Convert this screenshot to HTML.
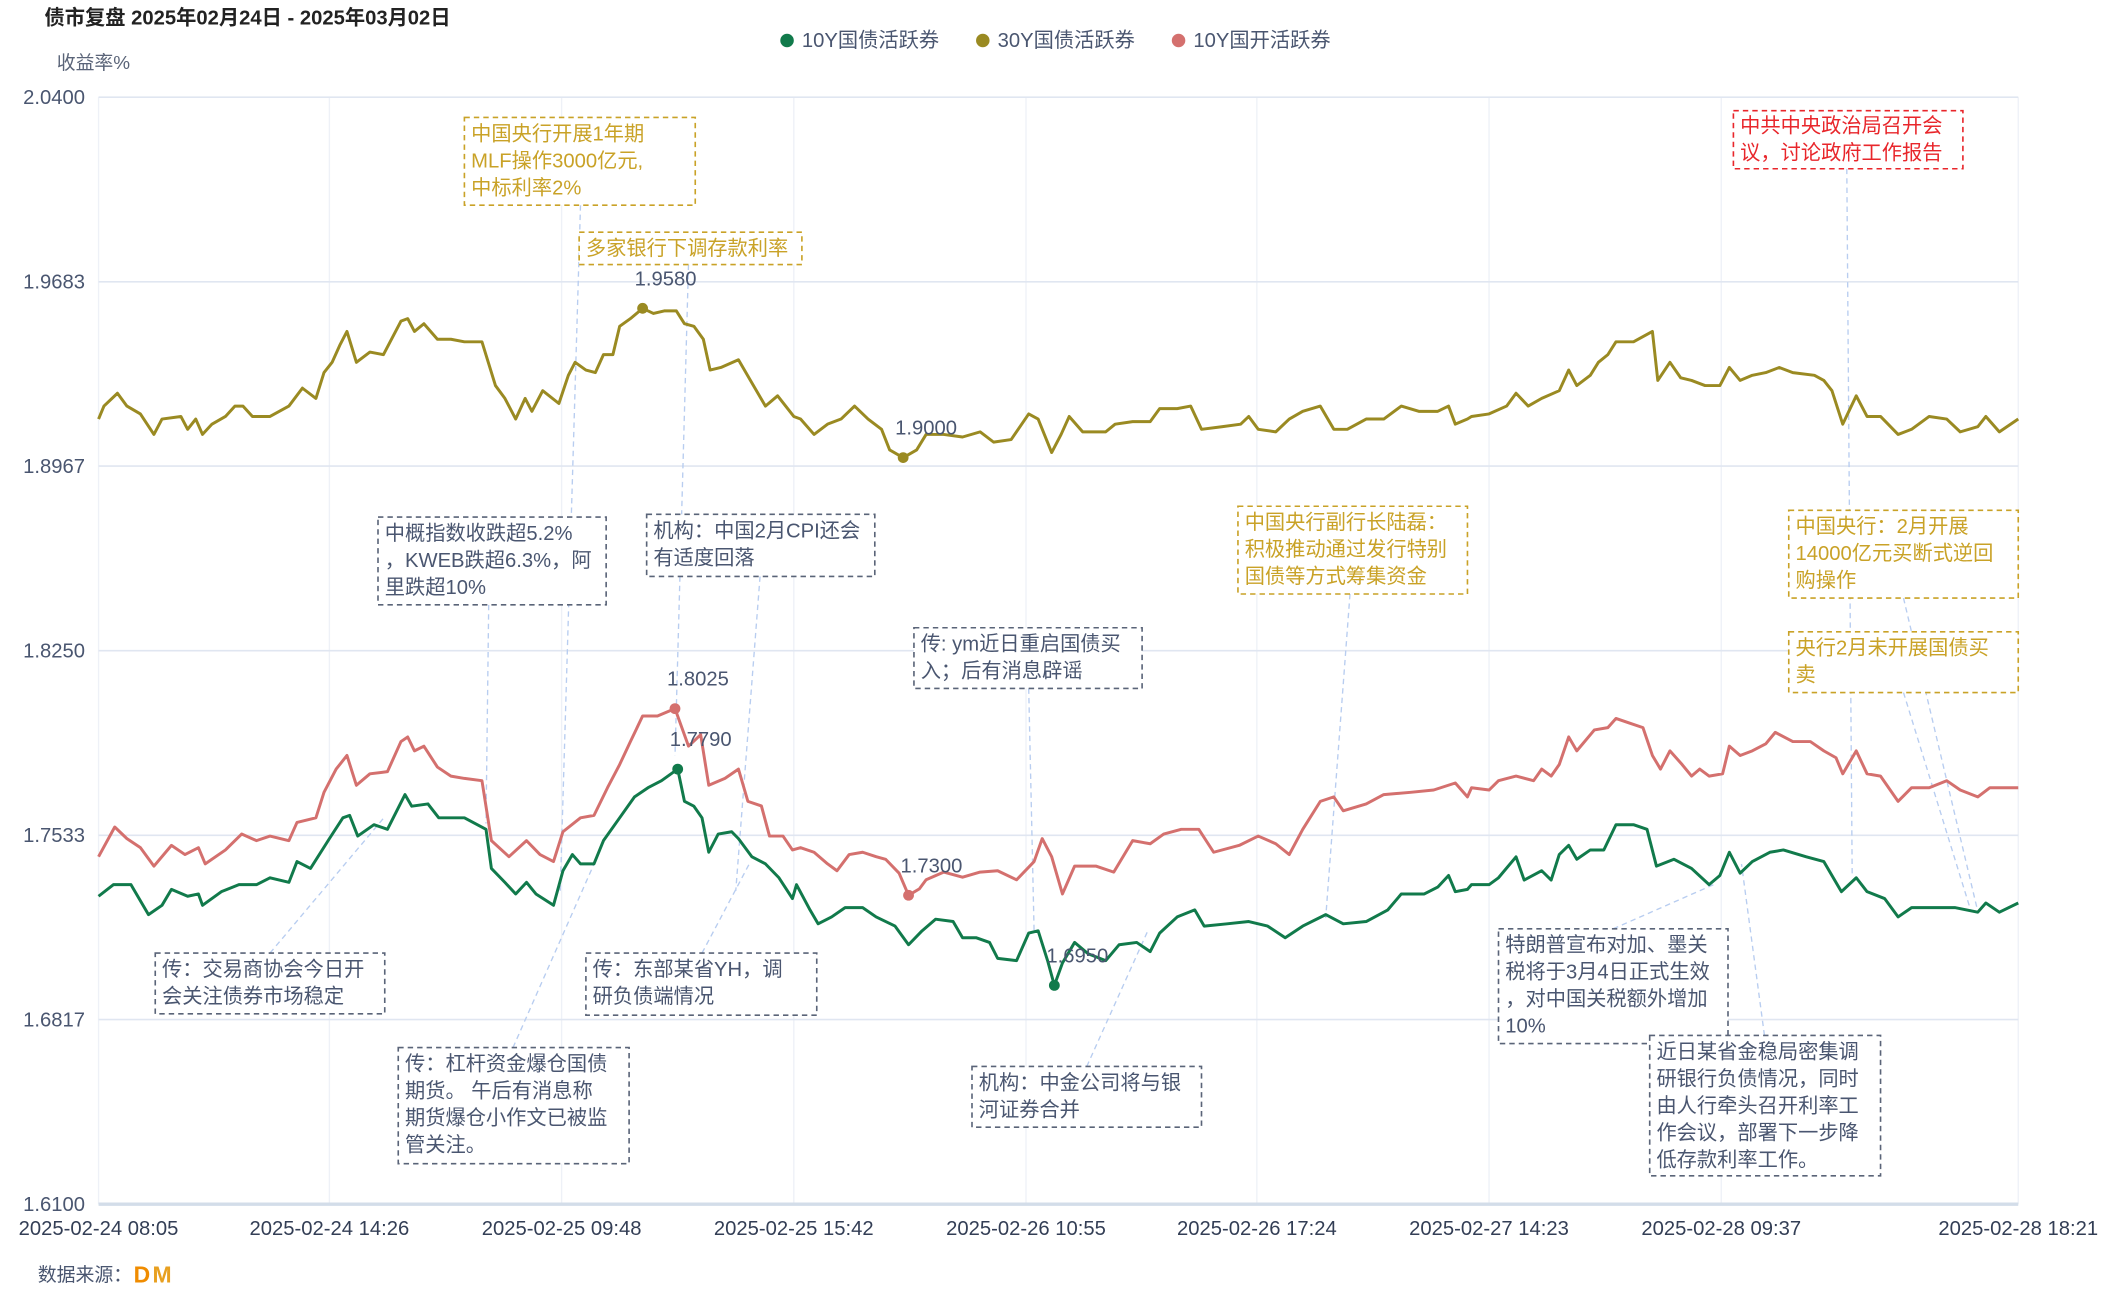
<!DOCTYPE html>
<html><head><meta charset="utf-8"><style>
html,body{margin:0;padding:0;background:#fff;}
svg{display:block;font-family:"Liberation Sans","Noto Sans CJK SC",sans-serif;}
.yl{font-size:15px;fill:#4a5670;text-anchor:end;}
.xl{font-size:15px;fill:#333e55;text-anchor:middle;}
.ann{font-size:15px;}
.g{fill:#c9a227;} .s{fill:#4a5670;} .r{fill:#e8262b;}
.bg{fill:#fff;stroke:#c9a227;stroke-dasharray:4 3;stroke-width:1.2;}
.bs{fill:#fff;stroke:#5a6478;stroke-dasharray:4 3;stroke-width:1.2;}
.br{fill:#fff;stroke:#e8262b;stroke-dasharray:4 3;stroke-width:1.2;}
.ld{stroke:#b8cdf0;stroke-dasharray:4 3;stroke-width:1;fill:none;}
</style></head><body>
<svg id="chart" width="2106" height="1291" viewBox="0 0 1560 956.3" preserveAspectRatio="none">
<text x="33" y="18" font-size="15" font-weight="bold" fill="#222">债市复盘 2025年02月24日 - 2025年03月02日</text>
<g font-size="15" fill="#4a5670">
<g><circle cx="583" cy="30" r="5" fill="#117a4b"/><text x="594" y="35">10Y国债活跃券</text></g>
<g><circle cx="728" cy="30" r="5" fill="#9a8a22"/><text x="739" y="35">30Y国债活跃券</text></g>
<g><circle cx="873" cy="30" r="5" fill="#d4706e"/><text x="884" y="35">10Y国开活跃券</text></g>
</g>
<text x="42" y="51" font-size="14" fill="#5a6478">收益率%</text>
<g id="grid"></g>
<g id="leaders">
<path class="ld" d="M430 152 L415 660"/><path class="ld" d="M510 196 L500 560"/><path class="ld" d="M1368 125 L1372 650"/>
<path class="ld" d="M362 448 L360 610"/><path class="ld" d="M563 427 L545 660"/><path class="ld" d="M762 510 L766 690"/>
<path class="ld" d="M1000 440 L982 680"/><path class="ld" d="M1410 443 L1465 675"/><path class="ld" d="M1410 513 L1460 675"/>
<path class="ld" d="M200 706 L285 605"/><path class="ld" d="M520 706 L555 640"/><path class="ld" d="M380 776 L440 640"/>
<path class="ld" d="M805 790 L850 690"/><path class="ld" d="M1195 688 L1270 655"/><path class="ld" d="M1307 767 L1290 640"/>
</g>
<g id="series"></g>
<g class="ann">
<g><rect class="bg" x="344" y="87" width="171" height="65"/><text class="g" x="349" y="104">中国央行开展1年期</text><text class="g" x="349" y="124">MLF操作3000亿元,</text><text class="g" x="349" y="144">中标利率2%</text></g>
<g><rect class="bg" x="429" y="172" width="165" height="24"/><text class="g" x="434" y="189">多家银行下调存款利率</text></g>
<g><rect class="br" x="1284" y="82" width="170" height="43"/><text class="r" x="1289" y="98">中共中央政治局召开会</text><text class="r" x="1289" y="118">议，讨论政府工作报告</text></g>
<g><rect class="bs" x="280" y="383" width="169" height="65"/><text class="s" x="285" y="400">中概指数收跌超5.2%</text><text class="s" x="285" y="420">，KWEB跌超6.3%，阿</text><text class="s" x="285" y="440">里跌超10%</text></g>
<g><rect class="bs" x="479" y="381" width="169" height="46"/><text class="s" x="484" y="398">机构：中国2月CPI还会</text><text class="s" x="484" y="418">有适度回落</text></g>
<g><rect class="bs" x="677" y="465" width="169" height="45"/><text class="s" x="682" y="482">传: ym近日重启国债买</text><text class="s" x="682" y="502">入；后有消息辟谣</text></g>
<g><rect class="bg" x="917" y="375" width="170" height="65"/><text class="g" x="922" y="392">中国央行副行长陆磊：</text><text class="g" x="922" y="412">积极推动通过发行特别</text><text class="g" x="922" y="432">国债等方式筹集资金</text></g>
<g><rect class="bg" x="1325" y="378" width="170" height="65"/><text class="g" x="1330" y="395">中国央行：2月开展</text><text class="g" x="1330" y="415">14000亿元买断式逆回</text><text class="g" x="1330" y="435">购操作</text></g>
<g><rect class="bg" x="1325" y="468" width="170" height="45"/><text class="g" x="1330" y="485">央行2月未开展国债买</text><text class="g" x="1330" y="505">卖</text></g>
<g><rect class="bs" x="115" y="706" width="170" height="45"/><text class="s" x="120" y="723">传：交易商协会今日开</text><text class="s" x="120" y="743">会关注债券市场稳定</text></g>
<g><rect class="bs" x="434" y="706" width="171" height="46"/><text class="s" x="439" y="723">传：东部某省YH，调</text><text class="s" x="439" y="743">研负债端情况</text></g>
<g><rect class="bs" x="295" y="776" width="171" height="86"/><text class="s" x="300" y="793">传：杠杆资金爆仓国债</text><text class="s" x="300" y="813">期货。 午后有消息称</text><text class="s" x="300" y="833">期货爆仓小作文已被监</text><text class="s" x="300" y="853">管关注。</text></g>
<g><rect class="bs" x="720" y="790" width="170" height="45"/><text class="s" x="725" y="807">机构：中金公司将与银</text><text class="s" x="725" y="827">河证券合并</text></g>
<g><rect class="bs" x="1110" y="688" width="170" height="85"/><text class="s" x="1115" y="705">特朗普宣布对加、墨关</text><text class="s" x="1115" y="725">税将于3月4日正式生效</text><text class="s" x="1115" y="745">，对中国关税额外增加</text><text class="s" x="1115" y="765">10%</text></g>
<g><rect class="bs" x="1222" y="767" width="171" height="104"/><text class="s" x="1227" y="784">近日某省金稳局密集调</text><text class="s" x="1227" y="804">研银行负债情况，同时</text><text class="s" x="1227" y="824">由人行牵头召开利率工</text><text class="s" x="1227" y="844">作会议，部署下一步降</text><text class="s" x="1227" y="864">低存款利率工作。</text></g>
</g>
<g id="marks"></g>
<g><text x="28" y="949" font-size="14" fill="#4a5670">数据来源：</text><text x="99" y="950" font-size="17" font-weight="bold" fill="#f08c00">D</text><text x="113" y="950" font-size="17" font-weight="bold" fill="#e8a020">M</text></g>
</svg>
<script>
const yTicks=[2.04,1.9683,1.8967,1.825,1.7533,1.6817,1.61];
const xTickIdx=[0,171,343,515,687,858,1030,1202,1422];
const xTickLabels=["2025-02-24 08:05","2025-02-24 14:26","2025-02-25 09:48","2025-02-25 15:42","2025-02-26 10:55","2025-02-26 17:24","2025-02-27 14:23","2025-02-28 09:37","2025-02-28 18:21"];
const t30=[0,4,14,21,31,41,47,61,66,72,77,84,94,101,107,114,127,141,151,161,167,173,179,184,191,201,211,224,229,234,241,251,261,271,284,294,301,309,316,321,329,341,348,353,361,368,374,381,386,394,403,411,419,428,434,441,448,453,461,474,484,494,503,515,520,530,540,550,560,570,580,586,596,606,613,626,640,653,663,676,689,696,706,713,719,729,746,753,766,779,786,799,809,817,832,846,852,859,872,882,892,905,915,925,939,952,965,978,992,1000,1005,1014,1017,1030,1043,1050,1059,1069,1082,1089,1095,1105,1111,1118,1124,1137,1151,1155,1164,1172,1180,1190,1201,1208,1216,1225,1235,1245,1255,1271,1278,1284,1292,1302,1310,1320,1333,1343,1356,1369,1379,1392,1398,1408,1422];
const v30=[1.915,1.920,1.925,1.920,1.917,1.909,1.915,1.916,1.911,1.915,1.909,1.913,1.916,1.920,1.920,1.916,1.916,1.920,1.927,1.923,1.933,1.937,1.944,1.949,1.937,1.941,1.940,1.953,1.954,1.949,1.952,1.946,1.946,1.945,1.945,1.928,1.923,1.915,1.923,1.918,1.926,1.921,1.932,1.937,1.934,1.933,1.940,1.940,1.951,1.954,1.958,1.956,1.957,1.957,1.952,1.951,1.946,1.934,1.935,1.938,1.929,1.920,1.924,1.916,1.915,1.909,1.913,1.915,1.920,1.915,1.911,1.903,1.900,1.903,1.909,1.909,1.908,1.910,1.906,1.907,1.917,1.915,1.902,1.909,1.916,1.910,1.910,1.913,1.914,1.914,1.919,1.919,1.920,1.911,1.912,1.913,1.916,1.911,1.910,1.915,1.918,1.920,1.911,1.911,1.915,1.915,1.920,1.918,1.918,1.920,1.913,1.915,1.916,1.917,1.920,1.925,1.920,1.923,1.926,1.934,1.928,1.932,1.937,1.940,1.945,1.945,1.949,1.930,1.937,1.931,1.930,1.928,1.928,1.935,1.930,1.932,1.933,1.935,1.933,1.932,1.930,1.926,1.913,1.924,1.916,1.916,1.909,1.911,1.916,1.915,1.910,1.912,1.916,1.910,1.915];
const tCdb=[0,12,21,31,41,54,64,74,79,94,106,117,127,141,147,161,167,176,184,191,201,214,224,229,234,241,251,261,271,284,291,304,317,327,337,344,357,367,377,386,394,403,414,427,437,446,452,464,474,481,491,497,507,514,520,530,540,547,556,566,576,583,593,600,608,613,626,640,653,666,680,693,699,706,714,723,739,752,766,779,789,802,815,826,845,859,872,882,892,905,915,922,939,952,972,989,1005,1014,1017,1030,1037,1050,1063,1069,1076,1082,1089,1095,1108,1118,1124,1134,1144,1151,1157,1164,1173,1180,1186,1193,1203,1208,1216,1225,1235,1242,1255,1268,1278,1287,1292,1302,1310,1320,1333,1343,1356,1369,1379,1392,1401,1408,1422];
const vCdb=[1.745,1.7565,1.752,1.7485,1.7413,1.7494,1.7458,1.7485,1.7422,1.7476,1.7538,1.7512,1.753,1.7512,1.7583,1.7601,1.770,1.779,1.7843,1.7727,1.7772,1.778,1.7897,1.7915,1.7861,1.7879,1.7798,1.7763,1.7754,1.7745,1.7512,1.745,1.7512,1.7458,1.7431,1.7547,1.7601,1.761,1.7718,1.7808,1.7897,1.7996,1.7996,1.8025,1.7879,1.7924,1.7727,1.7754,1.779,1.7665,1.7647,1.753,1.753,1.7476,1.7485,1.7467,1.7422,1.7395,1.7458,1.7467,1.745,1.744,1.7386,1.730,1.7325,1.736,1.739,1.737,1.739,1.7395,1.736,1.7431,1.752,1.745,1.7305,1.7413,1.7413,1.739,1.7512,1.750,1.7538,1.7556,1.7556,1.7467,1.7494,1.753,1.750,1.7458,1.7556,1.7665,1.7682,1.7628,1.7655,1.7691,1.770,1.7709,1.7736,1.7682,1.7718,1.7709,1.7745,1.7763,1.7745,1.779,1.7763,1.7808,1.7915,1.7861,1.7942,1.7951,1.7987,1.7969,1.7951,1.7843,1.779,1.7861,1.7808,1.7763,1.779,1.7763,1.7772,1.7879,1.7843,1.7861,1.7888,1.7933,1.7897,1.7897,1.7861,1.7834,1.7772,1.7861,1.7772,1.7763,1.7665,1.7718,1.7718,1.7745,1.7709,1.7682,1.7718,1.7718,1.7718];
const t10=[0,11,24,37,47,54,66,74,77,91,104,117,127,141,147,157,171,181,186,192,204,214,227,232,244,252,271,287,291,301,309,317,324,337,344,351,357,367,374,386,397,407,417,429,434,441,447,452,459,469,474,484,494,504,514,517,527,533,543,553,566,576,590,600,610,620,633,640,650,660,666,680,689,696,703,708,714,723,733,746,756,769,779,786,799,812,819,836,852,866,879,892,909,922,939,955,965,982,992,1000,1005,1014,1017,1030,1037,1050,1056,1069,1076,1082,1089,1095,1105,1115,1124,1137,1147,1154,1167,1180,1193,1201,1208,1216,1225,1238,1248,1265,1278,1291,1302,1310,1323,1333,1343,1359,1375,1392,1398,1408,1422];
const v10=[1.7296,1.7341,1.7341,1.7225,1.7261,1.7323,1.7296,1.7305,1.7261,1.7314,1.7341,1.7341,1.7368,1.735,1.7431,1.7404,1.752,1.7601,1.761,1.753,1.7574,1.7556,1.7691,1.7646,1.7655,1.7601,1.7601,1.7556,1.7404,1.735,1.7305,1.735,1.7305,1.7261,1.7395,1.7458,1.7422,1.7422,1.7512,1.7601,1.7682,1.7718,1.7745,1.779,1.7665,1.7646,1.7601,1.7467,1.7538,1.7547,1.752,1.7449,1.7422,1.7368,1.7287,1.7341,1.7243,1.7189,1.7216,1.7252,1.7252,1.7216,1.718,1.7108,1.7162,1.7207,1.7198,1.7135,1.7135,1.7117,1.7055,1.7046,1.7153,1.7162,1.7046,1.695,1.7037,1.7117,1.7073,1.7046,1.7108,1.7117,1.7081,1.7153,1.7216,1.7243,1.718,1.7189,1.7198,1.718,1.7135,1.718,1.7225,1.7189,1.7198,1.7243,1.7305,1.7305,1.7332,1.7377,1.7314,1.7323,1.7341,1.7341,1.7368,1.7449,1.7359,1.7395,1.7359,1.7458,1.7494,1.744,1.7476,1.7476,1.7574,1.7574,1.7556,1.7413,1.744,1.7404,1.7341,1.7377,1.7467,1.7386,1.7431,1.7467,1.7476,1.7449,1.7431,1.7314,1.7368,1.7314,1.7287,1.7216,1.7252,1.7252,1.7252,1.7234,1.727,1.7234,1.727];

const NS="http://www.w3.org/2000/svg";
const X0=73,X1=1495,Y0=72,Y1=892,IMAX=1422,VMAX=2.04,VMIN=1.61;
function xS(i){return X0+(i/IMAX)*(X1-X0);}
function yS(v){return Y0+(VMAX-v)/(VMAX-VMIN)*(Y1-Y0);}
function mk(tag,attrs,parent){const e=document.createElementNS(NS,tag);for(const k in attrs)e.setAttribute(k,attrs[k]);parent.appendChild(e);return e;}
const grid=document.getElementById('grid');
xTickIdx.forEach((ix,k)=>{
  const l=mk('line',{x1:xS(ix),x2:xS(ix),y1:Y0,y2:Y1,stroke:'#eef1f7','stroke-width':1},grid);
  
  
  const t=mk('text',{x:xS(ix),y:915,class:'xl'},grid);t.textContent=xTickLabels[k];
  
  
});
yTicks.forEach((v,k)=>{
  const last=k===yTicks.length-1;
  const l=mk('line',{x1:X0,x2:X1,y1:yS(v),y2:yS(v),stroke:last?'#d3dde9':'#e0e6f1','stroke-width':last?2.5:1.2},grid);
  
  
  const t=mk('text',{x:63,y:yS(v)+5,class:'yl'},grid);t.textContent=v.toFixed(4);
  
  
});
const series=document.getElementById('series');
const marks=document.getElementById('marks');
function draw(ts,vs,color,name,extremes){
  let d='';
  for(let i=0;i<ts.length;i++){d+=(i?'L':'M')+xS(ts[i]).toFixed(1)+' '+yS(vs[i]).toFixed(1);}
  const p=mk('path',{d:d,fill:'none',stroke:color,'stroke-width':2.2,'stroke-linejoin':'round'},series);
  
  
  extremes.forEach(kind=>{
    let bi=0;for(let i=1;i<vs.length;i++){if(kind==='max'?vs[i]>vs[bi]:vs[i]<vs[bi])bi=i;}
    const c=mk('circle',{cx:xS(ts[bi]),cy:yS(vs[bi]),r:4,fill:color},marks);
    
    
    const t=mk('text',{x:xS(ts[bi])+17,y:yS(vs[bi])-17,'font-size':15,fill:'#4a5670','text-anchor':'middle'},marks);
    t.textContent=vs[bi].toFixed(4);
    
    
  });
}
draw(t30,v30,'#9a8a22','30y-gov',['max','min']);
draw(tCdb,vCdb,'#d4706e','10y-cdb',['max','min']);
draw(t10,v10,'#117a4b','10y-gov',['max','min']);
</script>
</body></html>
